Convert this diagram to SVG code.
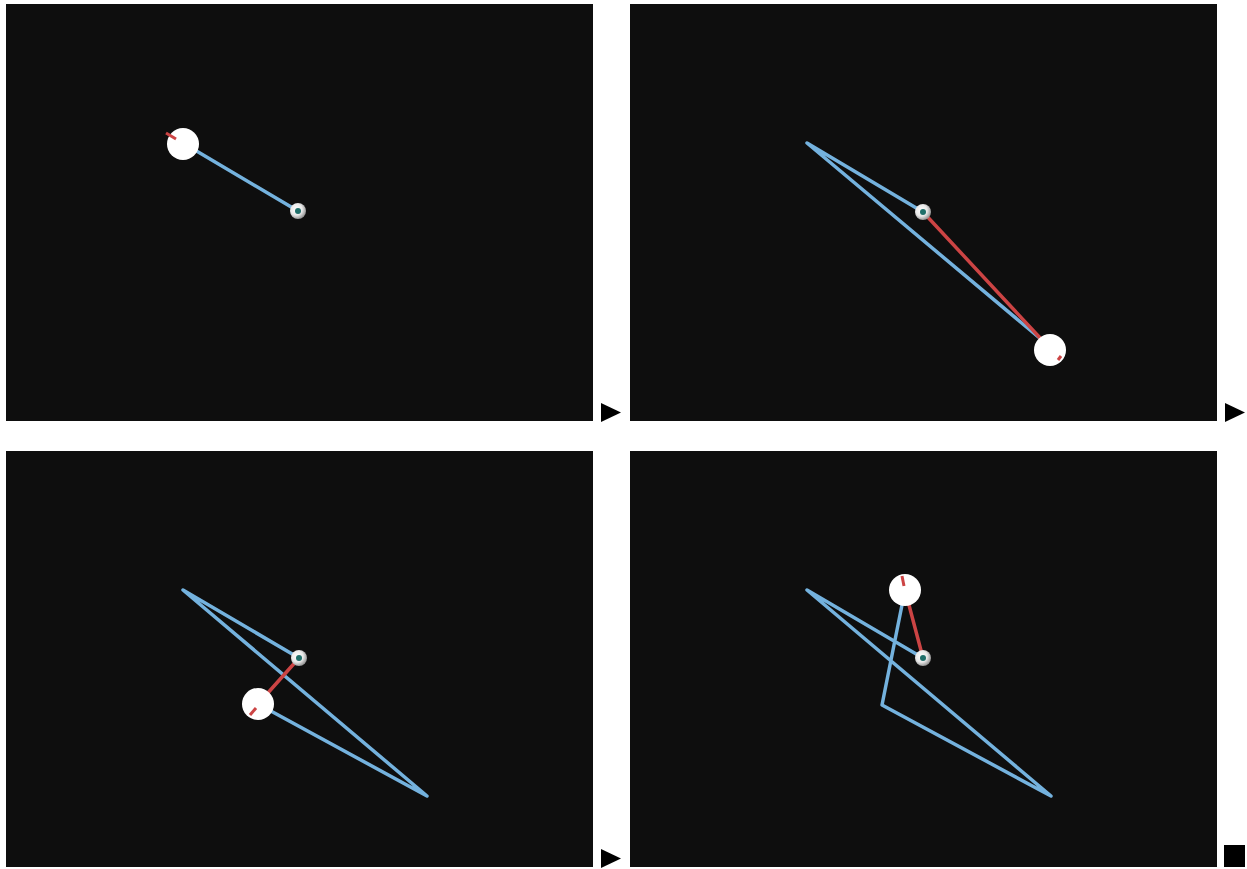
<svg xmlns="http://www.w3.org/2000/svg" width="1247" height="869" viewBox="0 0 1247 869">
<defs>
<style>
.panel{fill:#0e0e0e}
.trail{fill:none;stroke:#74b2de;stroke-width:3.5;stroke-linejoin:round;stroke-linecap:round}
.rod{stroke:#cc4444;stroke-width:3.5;stroke-linecap:round}
.tick{stroke:#cc4444;stroke-width:3}
.bob{fill:#ffffff}
.ctrl{fill:#000000}
</style>
<radialGradient id="pivotGrad" cx="0.4" cy="0.4" r="0.6">
<stop offset="0" stop-color="#ffffff"/>
<stop offset="0.6" stop-color="#e8e8e8"/>
<stop offset="1" stop-color="#9a9a9a"/>
</radialGradient>
<g id="pivot">
<circle r="8" fill="url(#pivotGrad)"/>
<circle r="3" fill="#1f6f6a"/>
</g>
</defs>
<rect width="1247" height="869" fill="#ffffff"/>
<g id="panel1">
<rect class="panel" x="6" y="4" width="587" height="417"/>
<path class="trail" d="M183,143 L298,211"/>
<circle class="bob" cx="183" cy="144" r="16"/>
<line class="tick" x1="166" y1="133" x2="176" y2="139"/>
<use href="#pivot" x="298" y="211"/>
<path class="ctrl" d="M601,403 L621,412.5 L601,422 Z"/>
</g>
<g id="panel2">
<rect class="panel" x="630" y="4" width="587" height="417"/>
<path class="trail" d="M923,212 L807,143 L1042,340"/>
<line class="rod" x1="923" y1="212" x2="1042" y2="340"/>
<circle class="bob" cx="1050" cy="350" r="16"/>
<line class="tick" x1="1058" y1="360" x2="1061" y2="356"/>
<use href="#pivot" x="923" y="212"/>
<path class="ctrl" d="M1225,403 L1245,412.5 L1225,422 Z"/>
</g>
<g id="panel3">
<rect class="panel" x="6" y="451" width="587" height="416"/>
<path class="trail" d="M299,658 L183,590 L427,796 L258,704"/>
<line class="rod" x1="299" y1="658" x2="258" y2="704"/>
<circle class="bob" cx="258" cy="704" r="16"/>
<line class="tick" x1="250" y1="715" x2="256" y2="708"/>
<use href="#pivot" x="299" y="658"/>
<path class="ctrl" d="M601,849 L621,858.5 L601,868 Z"/>
</g>
<g id="panel4">
<rect class="panel" x="630" y="451" width="587" height="416"/>
<path class="trail" d="M923,658 L807,590 L1051,796 L882,705 L905,590"/>
<line class="rod" x1="923" y1="658" x2="905" y2="590"/>
<circle class="bob" cx="905" cy="590" r="16"/>
<line class="tick" x1="902" y1="576" x2="904" y2="586"/>
<use href="#pivot" x="923" y="658"/>
<rect class="ctrl" x="1224" y="845" width="21" height="22"/>
</g>
</svg>
